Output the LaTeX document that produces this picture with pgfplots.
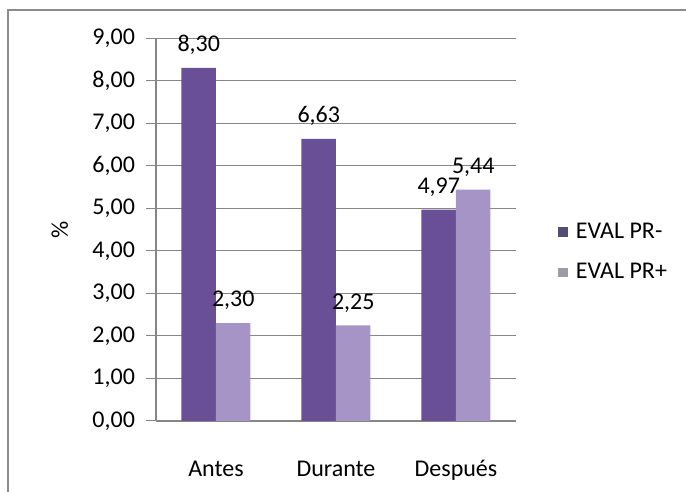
\documentclass[border=0pt]{standalone}
\usepackage{pgfplots}
\pgfplotsset{compat=1.18}
\usepackage{fontspec}
\setmainfont{Carlito}

\definecolor{prminus}{RGB}{104,79,150}
\definecolor{prplus}{RGB}{166,148,198}
\definecolor{legminus}{RGB}{82,76,118}
\definecolor{legplus}{RGB}{158,156,162}
\definecolor{gridgray}{RGB}{134,134,134}
\definecolor{framegray}{RGB}{140,140,140}

\begin{document}
\begin{tikzpicture}[font=\fontsize{12}{14}\selectfont]
% fixed page size and the outer chart frame (top and left edges)
\path[use as bounding box] (-78pt,-35.5pt) rectangle (265pt,210.5pt);
\draw[framegray, line width=1pt] (-74pt,-36pt) -- (-74pt,205.5pt) -- (266pt,205.5pt);

\begin{axis}[
    at={(0,0)}, anchor=south west,
    scale only axis,
    width=180pt, height=191.5pt,
    ybar=0pt, bar width=17.25pt,
    xmin=-0.5, xmax=2.5,
    ymin=0, ymax=9,
    xtick=data,
    xticklabels={Antes, Durante, Después},
    x tick style={draw=none},
    xticklabel style={text height=9pt, text depth=3pt, yshift=-10.2pt},
    ytick={0,1,...,9},
    y tick style={gridgray, line width=0.5pt},
    tick align=outside,
    major tick length=5pt,
    yticklabel style={xshift=-2pt},
    /pgf/number format/.cd, use comma, fixed, fixed zerofill, precision=2, assume math mode=true,
    /pgfplots/.cd,
    ymajorgrids,
    grid style={gridgray, line width=0.5pt},
    axis x line*=bottom,
    axis y line*=left,
    axis line style={gridgray, line width=0.6pt, -},
    ylabel={\%},
    every axis y label/.style={at={(axis description cs:-0.267,0.5)}, rotate=90, anchor=center},
    nodes near coords,
    every node near coord/.append style={black, yshift=3pt,
        /pgf/number format/.cd, use comma, fixed, fixed zerofill, precision=2, assume math mode=true},
    legend style={at={(axis description cs:1.1,0.44)}, anchor=west, draw=none, fill=none,
        row sep=7pt, font=\fontsize{12}{14}\selectfont},
    legend cell align=left,
    clip=false,
]
\addplot[draw=none, fill=prminus,
    legend image code/.code={\fill[legminus] (0pt,-2.4pt) rectangle (4.8pt,2.4pt);}]
    coordinates {(0,8.30) (1,6.63) (2,4.97)};
\addlegendentry{\hspace{2pt}EVAL PR-}
\addplot[draw=none, fill=prplus,
    legend image code/.code={\fill[legplus] (0pt,-2.4pt) rectangle (4.8pt,2.4pt);}]
    coordinates {(0,2.30) (1,2.25) (2,5.44)};
\addlegendentry{\hspace{2pt}EVAL PR+}
\end{axis}
\end{tikzpicture}
\end{document}
